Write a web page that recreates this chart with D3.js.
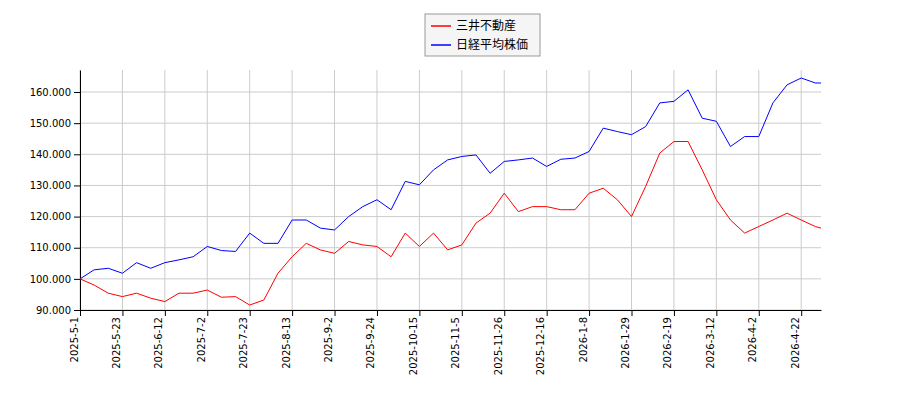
<!DOCTYPE html><html><head><meta charset="utf-8"><script src="https://cdn.jsdelivr.net/npm/d3@7"></script>
<style>body{margin:0;background:#fff}</style></head><body><svg id="c" width="900" height="400"></svg><script>
const mitsui=[100,98,95.4,94.3,95.4,93.8,92.7,95.4,95.4,96.4,94.1,94.3,91.6,93.2,101.8,107.1,111.4,109.3,108.2,112,110.9,110.4,107.1,114.7,110.4,114.7,109.3,110.9,117.9,121.1,127.5,121.6,123.2,123.2,122.2,122.2,127.5,129.1,125.4,120,129.7,140.4,144.1,144.1,135,125.4,118.9,114.7,116.8,118.9,121.1,118.9,116.8,116.3];
const nikkei=[100,102.9,103.4,101.8,105.2,103.4,105.2,106.1,107.1,110.4,109.1,108.8,114.7,111.4,111.4,118.9,118.9,116.3,115.7,120,123.2,125.4,122.2,131.3,130.2,135,138.2,139.3,139.8,133.9,137.7,138.2,138.8,136.1,138.4,138.8,140.9,148.4,147.3,146.3,148.9,156.5,157,160.7,151.6,150.6,142.5,145.7,145.7,156.5,162.3,164.5,162.9,162.9];
const yTicks=[90,100,110,120,130,140,150,160];
const xTickLabels=["2025-5-1","2025-5-23","2025-6-12","2025-7-2","2025-7-23","2025-8-13","2025-9-2","2025-9-24","2025-10-15","2025-11-5","2025-11-26","2025-12-16","2026-1-8","2026-1-29","2026-2-19","2026-3-12","2026-4-2","2026-4-22"];
const seriesNames=["三井不動産","日経平均株価"];
const lastIdx=262;
const idx=mitsui.map((_,i)=>i<53?i*5:lastIdx);
const svg=d3.select("#c");
const x=d3.scaleLinear().domain([0,lastIdx]).range([80,821]);
const y=d3.scaleLinear().domain([90,167.07]).range([310,70]);
const xt=xTickLabels.map((_,i)=>i*15);
svg.append("g").selectAll("line").data(xt).join("line").attr("x1",d=>x(d)).attr("x2",d=>x(d)).attr("y1",70).attr("y2",310).attr("stroke","#ccc");
svg.append("g").selectAll("line").data(yTicks).join("line").attr("x1",80).attr("x2",821).attr("y1",d=>y(d)).attr("y2",d=>y(d)).attr("stroke","#ccc");
const gx=svg.append("g").attr("transform","translate(0,310)").call(d3.axisBottom(x).tickValues(xt).tickFormat((d,i)=>xTickLabels[i]).tickSizeOuter(0));
gx.selectAll("text").attr("transform","rotate(-90)").attr("text-anchor","end").attr("dx","-0.5em").attr("dy","-0.3em").attr("x",-2).attr("y",0);
const gy=svg.append("g").attr("transform","translate(80,0)").call(d3.axisLeft(y).tickValues(yTicks).tickFormat(d=>d3.format(".3f")(d)).tickSizeOuter(0));
svg.selectAll(".tick text").attr("font-family","DejaVu Sans").attr("font-size",10).attr("fill","#000");
svg.selectAll(".domain").attr("stroke","#000");
const line=d3.line().x((d,i)=>x(idx[i])).y(d=>y(d));
svg.append("path").datum(nikkei).attr("d",line).attr("fill","none").attr("stroke","blue");
svg.append("path").datum(mitsui).attr("d",line).attr("fill","none").attr("stroke","red");
const lg=svg.append("g");
lg.append("rect").attr("x",425).attr("y",14).attr("width",115).attr("height",42).attr("fill","#f5f5f5").attr("stroke","#999");
[["red",0],["blue",1]].forEach(([c,i])=>{
 lg.append("line").attr("x1",431).attr("x2",451).attr("y1",26+i*19).attr("y2",26+i*19).attr("stroke",c).attr("stroke-width",1.5);
 lg.append("text").attr("x",456).attr("y",30+i*19).text(seriesNames[i]).attr("font-family","Noto Sans CJK JP").attr("font-size",12);
});
</script></body></html>
